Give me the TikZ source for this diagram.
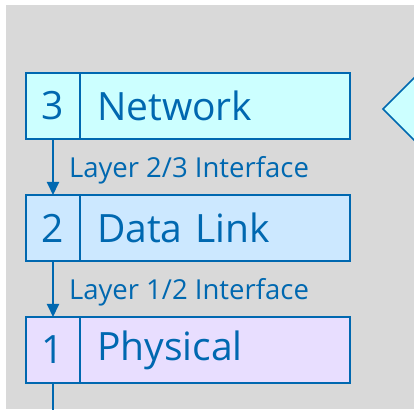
\documentclass[tikz,border=0pt]{standalone}
\usepackage{fontspec}
\setmainfont{Open Sans}
\usepackage{xcolor}
\usetikzlibrary{arrows.meta}
\usetikzlibrary{positioning}

\definecolor{osiblue}{HTML}{0068B0}
\definecolor{netfill}{HTML}{CCFFFF}
\definecolor{linkfill}{HTML}{CCE8FF}
\definecolor{physfill}{HTML}{E8DEFF}
\definecolor{paper}{HTML}{D9D9D9}

\begin{document}
\begin{tikzpicture}[x=1pt,y=1pt,
		numcell/.style={draw=osiblue, line width=1.6pt, text=osiblue, minimum width=54pt, minimum height=66pt, inner sep=0pt, outer sep=0pt, font=\fontsize{39}{39}\selectfont},
		namecell/.style={draw=osiblue, line width=1.6pt, text=osiblue, text width=236pt, align=left, inner xsep=17pt, inner ysep=0pt, minimum height=66pt, outer sep=0pt, font=\fontsize{39}{39}\selectfont},
		iface/.style={text=osiblue, inner sep=0pt, xshift=15pt, yshift=-3pt, font=\fontsize{27.5}{27.5}\selectfont},
		flow/.style={draw=osiblue, line width=2pt, -{Triangle[width=12pt,length=13pt]}}]
	\useasboundingbox (0,0) rectangle (414,409);
	\clip (0,0) rectangle (414,409);
	% background
	\fill[white] (0,0) rectangle (414,409);
	\fill[paper] (6,0) rectangle (414,404);
	
	%layer 3
	\node[numcell, fill=netfill] (num3) at (53,303) {3};
	\node[namecell, fill=netfill, right=0pt of num3] (name3) {Network};
	
	%layer 2
	\node[numcell, fill=linkfill, below=56pt of num3] (num2) {2};
	\node[namecell, fill=linkfill, right=0pt of num2] (name2) {Data Link};
	
	%layer 1
	\node[numcell, fill=physfill, below=56pt of num2] (num1) {1};
	\node[namecell, fill=physfill, right=0pt of num1] (name1) {Physical};
	
	% interfaces
	\draw[flow] (num3) -- node[iface, right] {Layer 2/3 Interface} (num2);
	\draw[flow] (num2) -- node[iface, right] {Layer 1/2 Interface} (num1);
	\coordinate (below1) at (53,-10);
	\draw[osiblue, line width=2pt] (num1) -- (below1);
	
	% neighbour on the right
	\draw[osiblue, fill=netfill, line width=1.6pt] (440,357) -- (383,300) -- (440,243);
\end{tikzpicture}
\end{document}
